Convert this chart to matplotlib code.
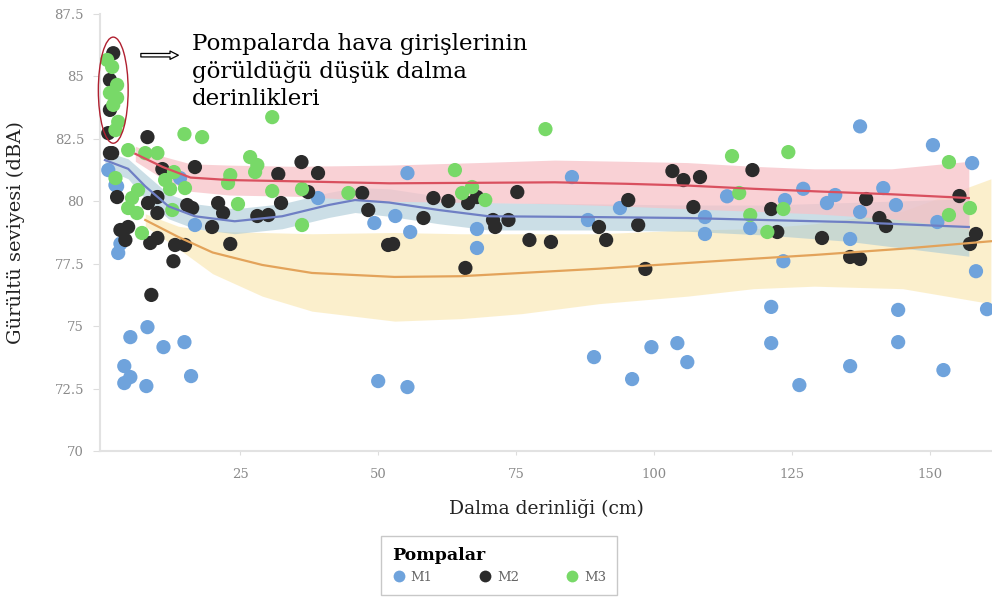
import matplotlib
matplotlib.use("Agg")
import matplotlib.pyplot as plt
from matplotlib.patches import Ellipse
from matplotlib.lines import Line2D

# --- data ---
m1_x = [2.9, 8.2, 5.1, 11.1, 14.9, 4.0, 5.1, 4.0, 8.0, 16.1, 50.0, 55.3, 89.1, 96.0,
        99.5, 104.2, 106.0, 121.2, 121.2, 126.3, 123.4, 135.5, 144.2, 144.2, 152.4,
        158.3, 160.3, 137.3, 150.5, 157.6, 127.0, 113.2, 132.8, 131.3, 141.5, 143.8,
        137.3, 123.7, 109.2, 109.2, 117.4, 135.5, 151.3, 55.3, 85.1, 53.1, 55.8,
        67.9, 67.9, 93.8, 88.0, 39.1, 49.3, 16.8, 14.1, 1.1, 2.7, 2.4, 3.3]
m1_y = [77.93, 74.96, 74.56, 74.16, 74.36, 73.4, 72.96, 72.72, 72.6, 73.0, 72.8, 72.56,
        73.76, 72.88, 74.16, 74.32, 73.56, 75.77, 74.32, 72.64, 77.6, 73.4, 75.65,
        74.36, 73.24, 77.2, 75.68, 83.0, 82.25, 81.53, 80.5, 80.2, 80.25, 79.93,
        80.53, 79.85, 79.57, 80.05, 79.37, 78.69, 78.93, 78.49, 79.17, 81.13, 80.97,
        79.41, 78.77, 78.89, 78.13, 79.73, 79.25, 80.13, 79.13, 79.05, 80.93, 81.25,
        80.6, 80.65, 78.3]

m2_x = [8.2, 10.9, 16.8, 1.8, 2.7, 8.3, 10.0, 10.0, 15.4, 16.3, 21.0, 21.9, 19.9, 28.1,
        30.1, 32.4, 31.9, 36.1, 39.1, 37.3, 47.1, 48.2, 23.2, 13.2, 15.0, 8.7, 10.0,
        4.2, 3.3, 4.7, 51.8, 12.9, 8.9, 60.0, 62.7, 66.3, 67.9, 75.2, 58.2, 70.8,
        71.2, 73.6, 77.4, 81.3, 52.7, 103.3, 105.3, 95.3, 90.0, 97.1, 91.3, 65.8,
        98.4, 108.3, 117.8, 107.1, 121.2, 122.3, 130.4, 138.4, 140.8, 142.0, 135.5,
        137.3, 155.3, 158.3, 157.2, 2.0, 1.4, 1.4, 1.1, 1.4]
m2_y = [82.57, 81.29, 81.37, 81.93, 80.17, 79.93, 80.17, 79.53, 79.85, 79.73, 79.93,
        79.53, 78.97, 79.41, 79.45, 79.93, 81.09, 81.57, 81.13, 80.37, 80.33, 79.65,
        78.29, 78.25, 78.25, 78.33, 78.53, 78.45, 78.85, 78.97, 78.25, 77.6, 76.25,
        80.13, 80.01, 79.93, 80.17, 80.37, 79.33, 79.25, 78.97, 79.25, 78.45, 78.37,
        78.29, 81.21, 80.85, 80.05, 78.97, 79.05, 78.45, 77.33, 77.29, 80.97, 81.25,
        79.77, 79.69, 78.77, 78.53, 80.09, 79.33, 79.01, 77.77, 77.69, 80.21, 78.69,
        78.29, 85.93, 84.86, 83.66, 82.73, 81.93]

m3_x = [1.8, 2.7, 2.7, 2.0, 2.9, 2.4, 1.4, 0.9, 30.8, 14.9, 18.1, 4.7, 7.8, 10.0, 26.8,
        28.1, 27.7, 23.2, 22.8, 30.8, 36.2, 44.6, 13.0, 11.4, 12.3, 15.0, 6.5, 5.4,
        4.7, 6.3, 2.4, 12.7, 24.6, 7.2, 36.2, 80.3, 63.9, 67.0, 65.2, 69.4, 114.1,
        124.3, 115.4, 117.4, 123.4, 120.5, 153.4, 153.4, 157.2]
m3_y = [85.38, 84.66, 84.14, 83.86, 83.18, 82.85, 84.34, 85.66, 83.37, 82.69, 82.57,
        82.05, 81.93, 81.93, 81.77, 81.45, 81.17, 81.05, 80.73, 80.41, 80.49, 80.33,
        81.17, 80.85, 80.49, 80.53, 80.45, 80.13, 79.73, 79.53, 80.93, 79.65, 79.89,
        78.73, 79.05, 82.89, 81.25, 80.57, 80.33, 80.05, 81.81, 81.97, 80.33, 79.45,
        79.69, 78.77, 81.57, 79.45, 79.73]

# smoothed trend lines with confidence bands
red_x = [6, 11, 16, 23, 35, 52, 68, 82, 95, 106, 118, 129, 143, 157]
red_y = [81.9, 81.37, 80.95, 80.85, 80.8, 80.72, 80.74, 80.76, 80.7, 80.63, 80.5, 80.4, 80.28, 80.13]
red_lo = [81.6, 80.9, 80.4, 80.25, 80.2, 80.0, 79.95, 79.9, 79.8, 79.7, 79.6, 79.5, 79.3, 78.9]
red_hi = [82.2, 81.8, 81.5, 81.45, 81.4, 81.45, 81.55, 81.65, 81.6, 81.55, 81.4, 81.3, 81.3, 81.6]

blue_x = [0.5, 4.7, 7.8, 12, 16.8, 24, 32.6, 41, 45.8, 52, 61, 70, 88, 106, 120, 135, 157]
blue_y = [81.65, 81.3, 80.6, 79.8, 79.4, 79.2, 79.4, 79.85, 80.05, 79.95, 79.65, 79.4, 79.37, 79.33, 79.25, 79.17, 78.97]
blue_lo = [81.3, 80.9, 80.1, 79.3, 78.9, 78.7, 78.9, 79.35, 79.55, 79.4, 79.1, 78.85, 78.85, 78.8, 78.65, 78.4, 77.8]
blue_hi = [82.0, 81.7, 81.1, 80.3, 79.9, 79.7, 79.9, 80.35, 80.55, 80.5, 80.2, 79.95, 79.9, 79.85, 79.85, 79.95, 80.1]

orange_x = [7.8, 13.8, 20, 29, 38, 53, 65, 76, 90, 106, 118, 129, 145, 161]
orange_y = [79.25, 78.57, 77.95, 77.45, 77.13, 76.97, 77.0, 77.13, 77.3, 77.53, 77.7, 77.85, 78.1, 78.4]
orange_lo = [79.0, 78.1, 77.1, 76.2, 75.6, 75.2, 75.3, 75.5, 75.9, 76.2, 76.5, 76.6, 76.5, 75.9]
orange_hi = [79.5, 79.0, 78.8, 78.75, 78.7, 78.75, 78.7, 78.7, 78.7, 78.85, 78.9, 79.1, 79.6, 80.9]

pumps = ["M1", "M2", "M3"]
pump_colors = ["#6fa3dc", "#2b2b2b", "#78d968"]
y_ticks = [70, 72.5, 75, 77.5, 80, 82.5, 85, 87.5]
x_ticks = [25, 50, 75, 100, 125, 150]

serif = ["DejaVu Serif", "Liberation Serif"]
plt.rcParams["font.family"] = serif

fig = plt.figure(figsize=(9.92, 6.01), dpi=100)
ax = fig.add_axes([0.1008, 0.2496, 0.8992, 0.7271])

# bands first, then points, then lines
ax.fill_between(orange_x, orange_lo, orange_hi, color="#fbedc4", alpha=0.85, lw=0, zorder=1)
ax.fill_between(blue_x, blue_lo, blue_hi, color="#a9c9d6", alpha=0.6, lw=0, zorder=2)
ax.fill_between(red_x, red_lo, red_hi, color="#f7c2c8", alpha=0.75, lw=0, zorder=2)

for xs, ys, c, name in zip([m1_x, m2_x, m3_x], [m1_y, m2_y, m3_y], pump_colors, pumps):
    ax.scatter(xs, ys, s=105, color=c, edgecolors="none", zorder=3, label=name)

ax.plot(red_x, red_y, color="#d9505f", lw=1.6, zorder=4)
ax.plot(blue_x, blue_y, color="#6f7fc4", lw=1.6, zorder=4)
ax.plot(orange_x, orange_y, color="#e3a35a", lw=1.6, zorder=4)

ax.set_xlim(-0.4, 161.2)
ax.set_ylim(70, 87.5)
ax.set_xticks(x_ticks)
ax.set_yticks(y_ticks)
ax.set_yticklabels([("%g" % v) for v in y_ticks])
ax.tick_params(axis="both", colors="#dddddd", labelcolor="#8a8a8a", labelsize=9.5)
ax.tick_params(axis="y", length=5, pad=6.5)
ax.tick_params(axis="x", length=3, pad=9)
for side in ["top", "right"]:
    ax.spines[side].set_visible(False)
for side in ["left", "bottom"]:
    ax.spines[side].set_color("#e2e2e2")
    ax.spines[side].set_linewidth(1.5)

ax.set_ylabel("Gürültü seviyesi (dBA)", fontsize=14, color="#222222", labelpad=21)
ax.set_xlabel("Dalma derinliği (cm)", fontsize=13.5, color="#222222", labelpad=13.5)

# annotation for the low-depth cluster
ax.add_patch(Ellipse((2.0, 84.45), 5.4, 4.25, fill=False, edgecolor="#b02030", lw=1.0, zorder=5, clip_on=False))
ax.annotate("", xy=(14.3, 85.85), xytext=(6.5, 85.85),
            arrowprops=dict(arrowstyle="simple,head_length=0.6,head_width=0.6,tail_width=0.25",
                            facecolor="white", edgecolor="black", lw=0.9), zorder=6)
ax.text(16.3, 86.72, "Pompalarda hava girişlerinin\ngörüldüğü düşük dalma\nderinlikleri",
        fontsize=16.5, va="top", ha="left", linespacing=1.3, color="black", zorder=6)

handles = [Line2D([], [], marker="o", ls="", markersize=8.5, markerfacecolor=c, markeredgecolor="none")
           for c in pump_colors]
leg = fig.legend(handles, pumps, title="Pompalar", loc="center", bbox_to_anchor=(0.503, 0.059),
                 ncol=3, frameon=True, fontsize=9.5, columnspacing=3.5, handlelength=1.0,
                 handletextpad=0.4, borderpad=0.85, edgecolor="#bbbbbb", fancybox=False,
                 alignment="left",
                 title_fontproperties={"weight": "bold", "size": 12.5, "family": serif})
for t in leg.get_texts():
    t.set_color("#666666")

fig.savefig("out.png", dpi=100)
